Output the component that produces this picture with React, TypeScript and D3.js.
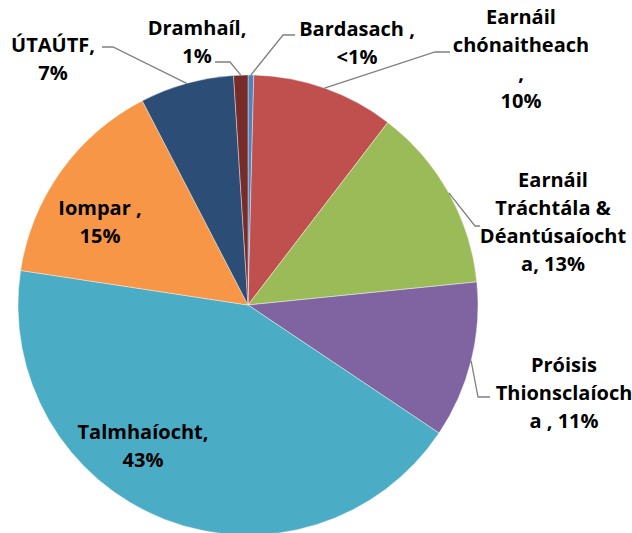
import React from "react";
import * as d3 from "d3";

const categories = [
  "Bardasach",
  "Earnáil chónaitheach",
  "Earnáil Tráchtála & Déantúsaíochta",
  "Próisis Thionsclaíocha",
  "Talmhaíocht",
  "Iompar",
  "ÚTAÚTF",
  "Dramhaíl",
];
const values = [0.4, 10, 13, 11, 43, 15, 6.6, 1];
const colors = ["#4F81BD", "#C0504D", "#9BBB59", "#8064A2", "#4BACC6", "#F79646", "#2C4D75", "#772C2A"];
const labelLines = [
  ["Bardasach ,", "<1%"],
  ["Earnáil", "chónaitheach", ",", "10%"],
  ["Earnáil", "Tráchtála &", "Déantúsaíocht", "a, 13%"],
  ["Próisis", "Thionsclaíoch", "a , 11%"],
  ["Talmhaíocht,", "43%"],
  ["Iompar ,", "15%"],
  ["ÚTAÚTF,", "7%"],
  ["Dramhaíl,", "1%"],
];

// label layout: centre x, first baseline, optional leader elbow [x, y, endX]
const layout: { x: number; y: number; lead?: [number, number, number] }[] = [
  { x: 357, y: 36, lead: [283, 35, 295] },
  { x: 521, y: 24, lead: [435, 52, 450] },
  { x: 553, y: 187, lead: [475, 226, 480] },
  { x: 564, y: 372, lead: [478, 397, 490] },
  { x: 143, y: 439 },
  { x: 100, y: 215 },
  { x: 53, y: 52, lead: [113, 47, 102] },
  { x: 197, y: 35, lead: [230, 62, 215] },
];

const W = 632;
const H = 533;
const cx = 248;
const cy = 305;
const R = 230;
const lineH = 28;

export default function App() {
  const pie = d3
    .pie<number>()
    .sort(null)
    .value((d) => d)
    .startAngle(0)
    .endAngle(2 * Math.PI);
  const arcs = pie(values);
  const arc = d3.arc<d3.PieArcDatum<number>>().innerRadius(0).outerRadius(R);

  return (
    <svg
      width={W}
      height={H}
      style={{ position: "absolute", left: 0, top: 0, background: "#fff" }}
      fontFamily="'Open Sans', Lato, sans-serif"
      fontWeight={700}
      fontSize={20}
    >
      <g transform={`translate(${cx},${cy})`}>
        {arcs.map((a, i) => (
          <path key={categories[i]} d={arc(a) || ""} fill={colors[i]} stroke="#fff" strokeWidth={0.4} />
        ))}
      </g>
      {arcs.map((a, i) => {
        const L = layout[i];
        if (!L.lead) return null;
        const mid = (a.startAngle + a.endAngle) / 2;
        const ax = cx + R * Math.sin(mid);
        const ay = cy - R * Math.cos(mid);
        const [ex, ey, endX] = L.lead;
        return (
          <polyline
            key={"l" + i}
            points={`${ax},${ay} ${ex},${ey} ${endX},${ey}`}
            fill="none"
            stroke="#808080"
            strokeWidth={1.3}
          />
        );
      })}
      {labelLines.map((lines, i) => (
        <text key={"t" + i} textAnchor="middle" fill="#000">
          {lines.map((s, j) => (
            <tspan key={j} x={layout[i].x} y={layout[i].y + j * lineH}>
              {s}
            </tspan>
          ))}
        </text>
      ))}
    </svg>
  );
}
